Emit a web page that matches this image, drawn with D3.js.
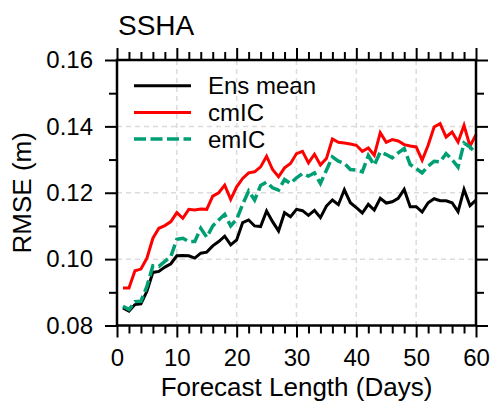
<!DOCTYPE html>
<html>
<head>
<meta charset="utf-8">
<script src="https://cdn.jsdelivr.net/npm/d3@7"></script>
<style>
  body { margin: 0; background: #fff; }
  text { font-family: "Liberation Sans", Arial, Helvetica, sans-serif; fill: #000; }
</style>
</head>
<body>
<div id="chart"></div>
<script>
// chart size and plot box
const WIDTH = 491;
const HEIGHT = 404;
const MARGIN = { left: 117, right: 15, top: 60, bottom: 78.5 };

// data (forecast day 1..60)
const days = d3.range(1, 61);
const ensMean = [
  0.0853, 0.0843, 0.0863, 0.0865, 0.0903, 0.0960, 0.0963, 0.0976, 0.0986, 0.1010,
  0.1011, 0.1010, 0.1003, 0.1018, 0.1021, 0.1040, 0.1053, 0.1069, 0.1043, 0.1058,
  0.1110, 0.1118, 0.1100, 0.1098, 0.1145, 0.1113, 0.1085, 0.1140, 0.1128, 0.1150,
  0.1146, 0.1132, 0.1147, 0.1125, 0.1160, 0.1178, 0.1164, 0.1209, 0.1170, 0.1155,
  0.1139, 0.1165, 0.1148, 0.1183, 0.1169, 0.1173, 0.1183, 0.1210, 0.1158, 0.1158,
  0.1142, 0.1170, 0.1182, 0.1176, 0.1176, 0.1170, 0.1143, 0.1210, 0.1161, 0.1178
];
const cmIC = [
  0.0913, 0.0913, 0.0965, 0.0970, 0.1003, 0.1063, 0.1093, 0.1101, 0.1113, 0.1140,
  0.1123, 0.1150, 0.1148, 0.1151, 0.1150, 0.1190, 0.1200, 0.1223, 0.1180, 0.1218,
  0.1243, 0.1260, 0.1263, 0.1278, 0.1310, 0.1270, 0.1248, 0.1275, 0.1288, 0.1318,
  0.1325, 0.1290, 0.1316, 0.1284, 0.1303, 0.1362, 0.1352, 0.1350, 0.1347, 0.1343,
  0.1325, 0.1335, 0.1313, 0.1381, 0.1352, 0.1360, 0.1356, 0.1345, 0.1341, 0.1338,
  0.1298, 0.1343, 0.1398, 0.1408, 0.1368, 0.1383, 0.1353, 0.1403, 0.1340, 0.1375
];
const emIC = [
  0.0858, 0.0848, 0.0872, 0.0873, 0.0918, 0.0980, 0.0978, 0.0993, 0.1008, 0.1060,
  0.1063, 0.1053, 0.1053, 0.1093, 0.1066, 0.1100, 0.1118, 0.1135, 0.1100, 0.1120,
  0.1165, 0.1205, 0.1178, 0.1222, 0.1232, 0.1215, 0.1208, 0.1240, 0.1228, 0.1245,
  0.1258, 0.1250, 0.1260, 0.1228, 0.1268, 0.1308, 0.1295, 0.1288, 0.1270, 0.1268,
  0.1263, 0.1312, 0.1283, 0.1323, 0.1315, 0.1305, 0.1320, 0.1333, 0.1285, 0.1273,
  0.1260, 0.1280, 0.1295, 0.1293, 0.1318, 0.1300, 0.1277, 0.1350, 0.1338, 0.1318
];

const seriesNames = ['Ens mean', 'cmIC', 'emIC'];
const seriesColors = ['#000000', '#ff0000', '#009e73'];
const seriesDash = [null, null, '12,4.5'];
const seriesValues = [ensMean, cmIC, emIC];

const xTicks = [0, 10, 20, 30, 40, 50, 60];
const yTicks = [0.08, 0.10, 0.12, 0.14, 0.16];

const MAJOR = 12;
const MINOR = 8;

const svg = d3.select('#chart')
  .append('svg')
  .attr('width', WIDTH)
  .attr('height', HEIGHT);

const x = d3.scaleLinear()
  .domain([0, 60])
  .range([MARGIN.left, WIDTH - MARGIN.right]);

const y = d3.scaleLinear()
  .domain([0.08, 0.16])
  .range([HEIGHT - MARGIN.bottom, MARGIN.top]);

const x0 = x.range()[0], x1 = x.range()[1];
const y0 = y.range()[0], y1 = y.range()[1];

// grid
const grid = svg.append('g')
  .attr('stroke', '#dcdcdc')
  .attr('stroke-width', 1.5)
  .attr('stroke-dasharray', '5,4');

grid.selectAll('.vgrid')
  .data(xTicks.slice(1, -1))
  .join('line')
  .attr('x1', d => x(d)).attr('x2', d => x(d))
  .attr('y1', y1).attr('y2', y0);

grid.selectAll('.hgrid')
  .data(yTicks.slice(1, -1))
  .join('line')
  .attr('x1', x0).attr('x2', x1)
  .attr('y1', d => y(d)).attr('y2', d => y(d));

// lines
const line = d3.line()
  .x((d, i) => x(days[i]))
  .y(d => y(d));

seriesValues.forEach((vals, k) => {
  svg.append('path')
    .datum(vals)
    .attr('fill', 'none')
    .attr('stroke', seriesColors[k])
    .attr('stroke-width', k === 2 ? 3.5 : 3)
    .attr('stroke-linejoin', 'miter')
    .attr('stroke-dasharray', seriesDash[k])
    .attr('d', line);
});

// axes: outward ticks on all four sides
const xMinor = d3.range(0, 61, 2).filter(d => d % 10 !== 0);
const yMinor = [0.09, 0.11, 0.13, 0.15];

function styleAxis (g) {
  g.select('.domain').remove();
  g.selectAll('.tick line').attr('stroke', '#000').attr('stroke-width', 2);
}

svg.append('g')
  .attr('transform', `translate(0, ${y0})`)
  .call(d3.axisBottom(x).tickValues(xTicks).tickSize(MAJOR).tickPadding(11))
  .call(styleAxis)
  .call(g => g.selectAll('text')
    .attr('font-size', 24)
    .attr('font-family', '"Liberation Sans", Arial, sans-serif')
    .attr('dy', '0.71em'));

svg.append('g')
  .attr('transform', `translate(0, ${y0})`)
  .call(d3.axisBottom(x).tickValues(xMinor).tickSize(MINOR).tickFormat(''))
  .call(styleAxis);

svg.append('g')
  .attr('transform', `translate(0, ${y1})`)
  .call(d3.axisTop(x).tickValues(xTicks).tickSize(MAJOR).tickFormat(''))
  .call(styleAxis);

svg.append('g')
  .attr('transform', `translate(0, ${y1})`)
  .call(d3.axisTop(x).tickValues(xMinor).tickSize(MINOR).tickFormat(''))
  .call(styleAxis);

svg.append('g')
  .attr('transform', `translate(${x0}, 0)`)
  .call(d3.axisLeft(y).tickValues(yTicks).tickSize(MAJOR).tickPadding(12).tickFormat(d3.format('.2f')))
  .call(styleAxis)
  .call(g => g.selectAll('text')
    .attr('font-size', 24)
    .attr('font-family', '"Liberation Sans", Arial, sans-serif'));

svg.append('g')
  .attr('transform', `translate(${x0}, 0)`)
  .call(d3.axisLeft(y).tickValues(yMinor).tickSize(MINOR).tickFormat(''))
  .call(styleAxis);

svg.append('g')
  .attr('transform', `translate(${x1}, 0)`)
  .call(d3.axisRight(y).tickValues(yTicks).tickSize(MAJOR).tickFormat(''))
  .call(styleAxis);

svg.append('g')
  .attr('transform', `translate(${x1}, 0)`)
  .call(d3.axisRight(y).tickValues(yMinor).tickSize(MINOR).tickFormat(''))
  .call(styleAxis);

// frame
svg.append('rect')
  .attr('x', x0).attr('y', y1)
  .attr('width', x1 - x0).attr('height', y0 - y1)
  .attr('fill', 'none')
  .attr('stroke', '#000')
  .attr('stroke-width', 2.5);

// titles
svg.append('text')
  .attr('x', 118).attr('y', 35)
  .attr('font-size', 28)
  .text('SSHA');

svg.append('text')
  .attr('x', (x0 + x1) / 2).attr('y', 396)
  .attr('text-anchor', 'middle')
  .attr('font-size', 26)
  .text('Forecast Length (Days)');

svg.append('text')
  .attr('transform', `translate(31, ${(y0 + y1) / 2}) rotate(-90)`)
  .attr('text-anchor', 'middle')
  .attr('font-size', 26)
  .text('RMSE (m)');

// legend
const legend = svg.append('g');
seriesNames.forEach((name, k) => {
  const ly = 85.7 + k * 26.7;
  legend.append('line')
    .attr('x1', 134).attr('x2', 191)
    .attr('y1', ly).attr('y2', ly)
    .attr('stroke', seriesColors[k])
    .attr('stroke-width', k === 2 ? 3.5 : 3)
    .attr('stroke-dasharray', seriesDash[k]);
  legend.append('text')
    .attr('x', 208).attr('y', ly + 8.5)
    .attr('font-size', 24)
    .text(name);
});
</script>
</body>
</html>
